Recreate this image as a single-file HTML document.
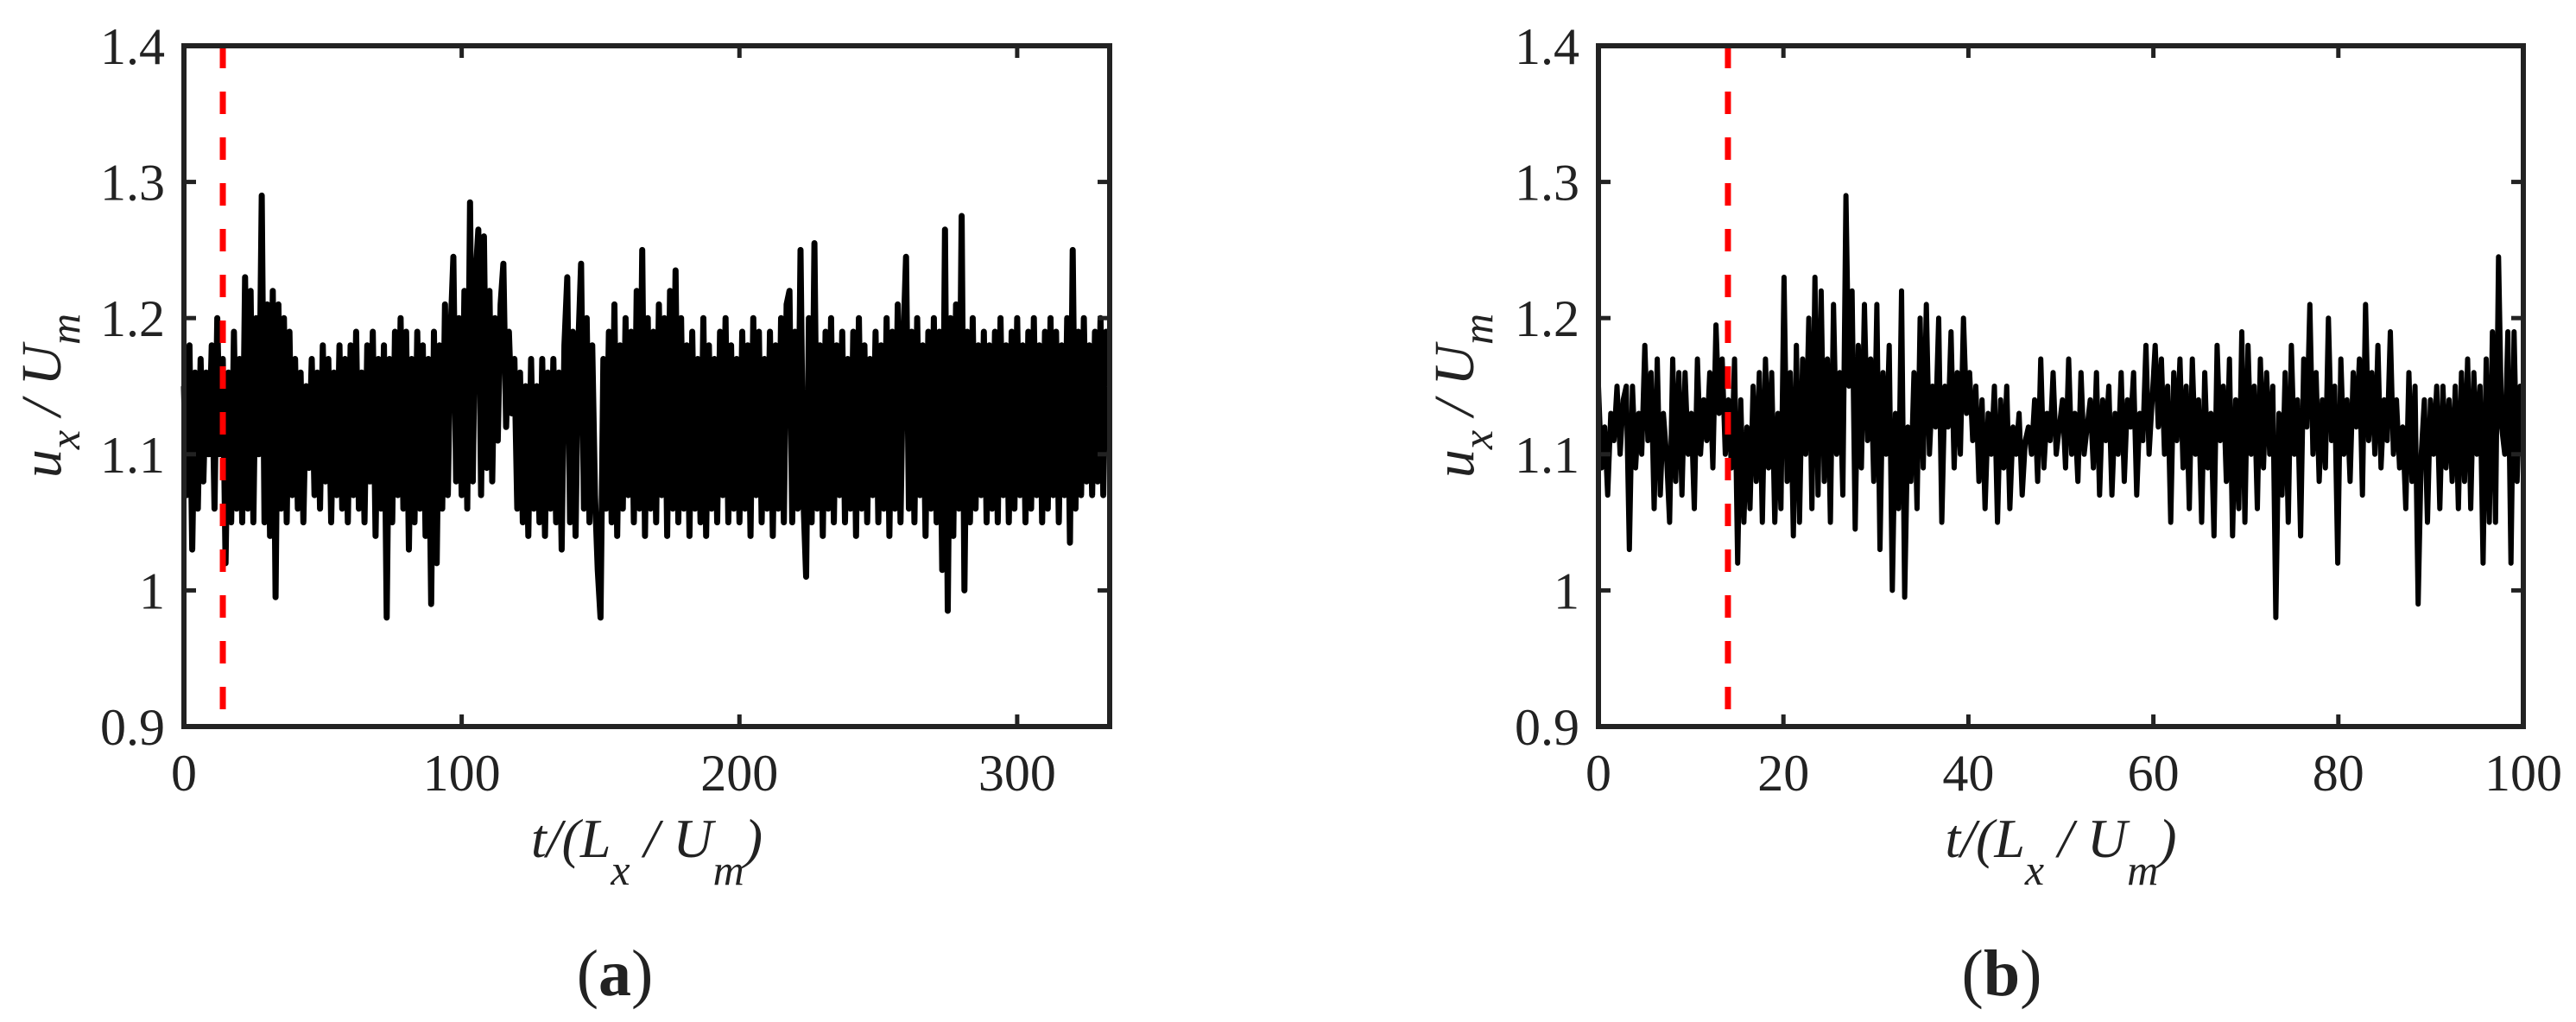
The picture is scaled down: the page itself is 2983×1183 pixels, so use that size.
<!DOCTYPE html>
<html><head><meta charset="utf-8"><style>
html,body{margin:0;padding:0;background:#fff;}
svg{display:block;}
text{font-family:"Liberation Serif",serif;fill:#222;}
</style></head><body>
<svg id="fig" width="2983" height="1183" viewBox="0 0 2983 1183" xmlns="http://www.w3.org/2000/svg"></svg>
<script>
const seriesA = [
1.15,1.07,1.18,1.03,1.16,1.06,1.17,1.08,1.16,1.10,
1.18,1.06,1.20,1.10,1.17,1.02,1.16,1.05,1.19,1.06,
1.17,1.05,1.23,1.06,1.22,1.05,1.20,1.10,1.29,1.05,
1.21,1.04,1.22,0.995,1.21,1.06,1.20,1.05,1.19,1.07,
1.17,1.06,1.16,1.05,1.15,1.09,1.17,1.07,1.16,1.06,
1.18,1.08,1.17,1.05,1.16,1.07,1.18,1.06,1.17,1.05,
1.18,1.07,1.19,1.06,1.16,1.05,1.18,1.08,1.19,1.04,
1.17,1.06,1.18,0.98,1.17,1.05,1.19,1.07,1.20,1.06,
1.19,1.03,1.17,1.05,1.19,1.06,1.18,1.04,1.17,0.99,
1.19,1.02,1.18,1.06,1.21,1.07,1.19,1.245,1.08,1.20,
1.07,1.22,1.06,1.285,1.08,1.23,1.265,1.07,1.26,1.09,
1.22,1.08,1.20,1.11,1.21,1.24,1.12,1.19,1.13,1.17,
1.06,1.16,1.05,1.15,1.04,1.17,1.06,1.15,1.05,1.17,
1.04,1.16,1.06,1.17,1.05,1.16,1.03,1.18,1.23,1.05,
1.19,1.04,1.18,1.24,1.06,1.20,1.05,1.18,1.07,1.015,
0.98,1.17,1.06,1.19,1.05,1.21,1.04,1.18,1.06,1.20,
1.07,1.19,1.05,1.22,1.06,1.25,1.04,1.20,1.06,1.19,
1.05,1.21,1.07,1.20,1.04,1.22,1.06,1.235,1.05,1.20,
1.06,1.18,1.04,1.19,1.06,1.17,1.05,1.20,1.04,1.18,
1.06,1.17,1.05,1.19,1.07,1.20,1.05,1.18,1.06,1.17,
1.05,1.19,1.06,1.18,1.04,1.20,1.07,1.19,1.05,1.17,
1.06,1.19,1.04,1.18,1.06,1.20,1.05,1.21,1.22,1.05,
1.19,1.06,1.25,1.07,1.01,1.20,1.05,1.255,1.06,1.18,
1.04,1.19,1.06,1.20,1.05,1.18,1.07,1.19,1.05,1.17,
1.06,1.19,1.04,1.20,1.06,1.18,1.05,1.17,1.07,1.19,
1.05,1.18,1.06,1.20,1.04,1.19,1.06,1.21,1.05,1.18,
1.245,1.06,1.19,1.05,1.20,1.07,1.18,1.04,1.19,1.06,
1.20,1.05,1.19,1.015,1.265,0.985,1.20,1.04,1.21,1.06,
1.275,1.00,1.19,1.05,1.20,1.06,1.18,1.07,1.19,1.05,
1.18,1.06,1.19,1.05,1.20,1.07,1.18,1.05,1.19,1.06,
1.20,1.07,1.18,1.05,1.19,1.06,1.20,1.07,1.18,1.05,
1.19,1.06,1.20,1.07,1.19,1.05,1.18,1.07,1.20,1.035,
1.25,1.06,1.19,1.07,1.20,1.08,1.18,1.07,1.19,1.08,
1.20,1.07,1.19,1.15];
const dtA = 1;
const seriesB = [
1.15,1.09,1.12,1.07,1.13,1.11,1.15,1.10,1.14,1.15,
1.03,1.15,1.09,1.13,1.10,1.18,1.11,1.16,1.06,1.17,
1.07,1.13,1.10,1.05,1.17,1.08,1.16,1.07,1.16,1.10,
1.13,1.06,1.17,1.10,1.14,1.11,1.16,1.09,1.195,1.13,
1.17,1.10,1.14,1.09,1.17,1.02,1.14,1.05,1.12,1.06,
1.15,1.08,1.16,1.05,1.17,1.09,1.16,1.05,1.13,1.06,
1.23,1.08,1.16,1.04,1.18,1.05,1.17,1.10,1.20,1.06,
1.23,1.07,1.22,1.08,1.17,1.05,1.21,1.10,1.16,1.07,
1.29,1.15,1.22,1.045,1.18,1.09,1.21,1.11,1.17,1.08,
1.21,1.03,1.16,1.10,1.18,1.00,1.13,1.06,1.22,0.995,
1.12,1.08,1.16,1.06,1.20,1.09,1.21,1.10,1.15,1.12,
1.20,1.05,1.15,1.12,1.19,1.09,1.16,1.10,1.20,1.13,
1.16,1.11,1.15,1.08,1.14,1.06,1.13,1.10,1.15,1.05,
1.14,1.09,1.15,1.06,1.12,1.10,1.13,1.07,1.11,1.12,
1.10,1.14,1.08,1.17,1.09,1.13,1.11,1.16,1.10,1.12,
1.14,1.09,1.17,1.10,1.13,1.08,1.16,1.10,1.12,1.14,
1.09,1.16,1.07,1.14,1.11,1.15,1.07,1.13,1.10,1.16,
1.08,1.14,1.12,1.16,1.07,1.13,1.11,1.18,1.10,1.14,
1.18,1.12,1.17,1.10,1.15,1.05,1.16,1.11,1.17,1.09,
1.15,1.06,1.17,1.10,1.14,1.05,1.16,1.09,1.13,1.04,
1.18,1.11,1.15,1.08,1.17,1.04,1.14,1.06,1.19,1.05,
1.18,1.10,1.15,1.06,1.17,1.09,1.16,1.10,1.15,0.98,
1.13,1.07,1.16,1.05,1.18,1.10,1.14,1.04,1.17,1.12,
1.21,1.10,1.16,1.08,1.14,1.09,1.20,1.11,1.15,1.02,
1.17,1.10,1.14,1.08,1.16,1.12,1.17,1.07,1.21,1.11,
1.16,1.10,1.18,1.09,1.14,1.11,1.19,1.10,1.14,1.09,
1.12,1.06,1.16,1.08,1.15,0.99,1.10,1.14,1.05,1.14,
1.10,1.15,1.06,1.15,1.09,1.14,1.08,1.15,1.06,1.16,
1.08,1.17,1.06,1.16,1.10,1.15,1.02,1.17,1.05,1.19,
1.05,1.245,1.12,1.10,1.19,1.02,1.19,1.08,1.15,1.10];
const dtB = 100/299;
const xTicksA = [0,100,200,300];
const xTicksB = [0,20,40,60,80,100];
const yTicks = [0.9,1,1.1,1.2,1.3,1.4];
const yTickLabels = ["0.9","1","1.1","1.2","1.3","1.4"];
const markerA = 14;
const markerB = 14;

const NS = "http://www.w3.org/2000/svg";
const svg = document.getElementById('fig');
function mk(tag, attrs, parent){
  const e = document.createElementNS(NS, tag);
  for (const k in attrs) e.setAttribute(k, attrs[k]);
  (parent||svg).appendChild(e);
  return e;
}
function panel(o){
  const g = mk('g', {});
  
  
  const X = v => o.x0 + (v - o.xmin) / (o.xmax - o.xmin) * (o.x1 - o.x0);
  const Y = v => o.y1 - (v - 0.9) / (1.4 - 0.9) * (o.y1 - o.y0);
  let d = '';
  o.data.forEach((v, i) => { d += (i ? 'L' : 'M') + X(i * o.dt).toFixed(1) + ' ' + Y(v).toFixed(1); });
  const line = mk('path', {d: d, fill: 'none', stroke: '#000', 'stroke-width': o.lw, 'stroke-linejoin': 'round'}, g);
  
  
  const red = mk('line', {x1: X(o.marker), x2: X(o.marker), y1: o.y0, y2: o.y1, stroke: '#ff0000', 'stroke-width': 7, 'stroke-dasharray': '26 27'}, g);
  
  
  const box = mk('rect', {x: o.x0, y: o.y0, width: o.x1 - o.x0, height: o.y1 - o.y0, fill: 'none', stroke: '#222', 'stroke-width': 6}, g);
  
  
  o.xticks.forEach(t => {
    const px = X(t);
    mk('line', {x1: px, x2: px, y1: o.y1, y2: o.y1 - 14, stroke: '#222', 'stroke-width': 5}, g);
    mk('line', {x1: px, x2: px, y1: o.y0, y2: o.y0 + 14, stroke: '#222', 'stroke-width': 5}, g);
    const tl = mk('text', {x: px, y: o.y1 + 74, 'font-size': 60, 'text-anchor': 'middle'}, g);
    tl.textContent = String(t);
    
    
  });
  yTicks.forEach((t, i) => {
    const py = Y(t);
    mk('line', {x1: o.x0, x2: o.x0 + 14, y1: py, y2: py, stroke: '#222', 'stroke-width': 5}, g);
    mk('line', {x1: o.x1, x2: o.x1 - 14, y1: py, y2: py, stroke: '#222', 'stroke-width': 5}, g);
    const tl = mk('text', {x: o.x0 - 22, y: py + 21, 'font-size': 60, 'text-anchor': 'end'}, g);
    tl.textContent = yTickLabels[i];
    
    
  });
  const xl = mk('text', {x: (o.x0 + o.x1) / 2, y: 992, 'font-size': 64, 'font-style': 'italic', 'text-anchor': 'middle'}, g);
  xl.innerHTML = 't/(L<tspan dy="32" font-size="50">x</tspan><tspan dy="-32"> / U</tspan><tspan dy="32" font-size="50">m</tspan><tspan dy="-32">)</tspan>';
  
  
  const yl = mk('text', {x: 0, y: 0, 'font-size': 66, 'font-style': 'italic', 'text-anchor': 'middle', transform: 'translate(' + o.ylx + ',458) rotate(-90)'}, g);
  yl.innerHTML = 'u<tspan dy="22" font-size="50">x</tspan><tspan dy="-22"> / U</tspan><tspan dy="22" font-size="50">m</tspan>';
  
  
  const cap = mk('text', {x: o.capx, y: 1152, 'font-size': 76, 'text-anchor': 'middle'}, g);
  cap.innerHTML = '(<tspan font-weight="bold">' + o.letter + '</tspan>)';
  
  
}
panel({name: 'panel-a', data: seriesA, dt: dtA, xmin: 0, xmax: 333.3, x0: 213, x1: 1285, y0: 53, y1: 841, xticks: xTicksA, marker: markerA, lw: 7, ylx: 70, capx: 712, letter: 'a'});
panel({name: 'panel-b', data: seriesB, dt: dtB, xmin: 0, xmax: 100, x0: 1851, x1: 2922, y0: 53, y1: 841, xticks: xTicksB, marker: markerB, lw: 6, ylx: 1706, capx: 2318, letter: 'b'});
</script>
</body></html>
